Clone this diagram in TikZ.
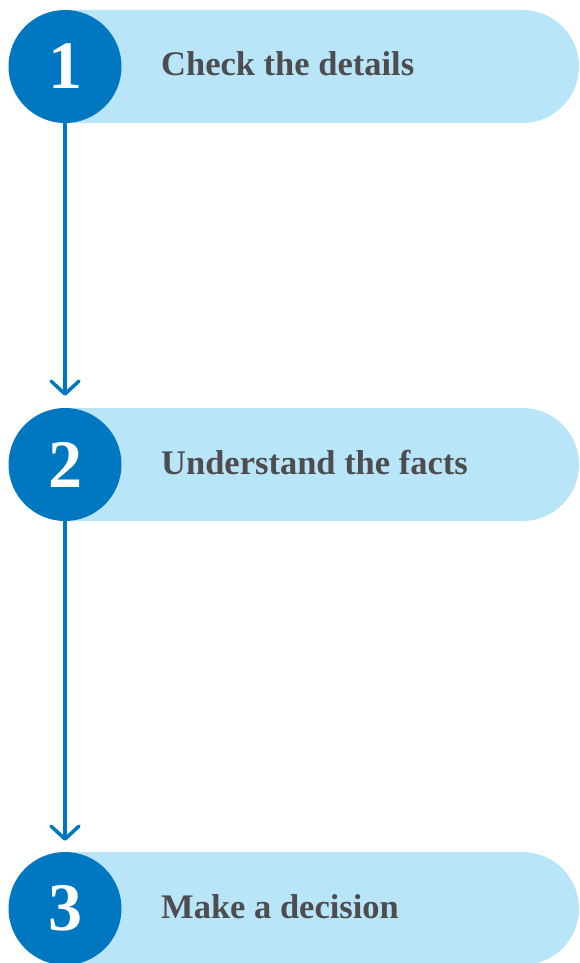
\documentclass[tikz,border=0pt]{standalone}
\usepackage{fontspec}
\setmainfont{Liberation Serif}
\usetikzlibrary{arrows.meta}
\definecolor{stepblue}{HTML}{0077C1}
\definecolor{pillblue}{HTML}{B9E5F9}
\definecolor{labelgray}{HTML}{4D4D4F}
\begin{document}
\begin{tikzpicture}[x=1pt,y=-1pt,
  numcircle/.style={circle,fill=stepblue,minimum size=113pt,inner sep=0pt,text=white,font=\fontsize{68}{68}\selectfont\bfseries},
  pilltext/.style={anchor=base west,inner sep=0pt,text=labelgray,font=\fontsize{34.5}{34.5}\selectfont\bfseries},
  flow/.style={draw=stepblue,line width=3.5pt,-{Straight Barb[length=13pt,width=28pt,line width=3.5pt,round]}}]
\useasboundingbox (0,0) rectangle (579,963);
% pills
\fill[pillblue] (65,10) -- (522.5,10) arc[start angle=-90,end angle=90,radius=56.5] -- (65,123) -- cycle;
\fill[pillblue] (65,408) -- (522.5,408) arc[start angle=-90,end angle=90,radius=56.5] -- (65,521) -- cycle;
\fill[pillblue] (65,852) -- (522.5,852) arc[start angle=-90,end angle=90,radius=56.5] -- (65,965) -- cycle;
% circles
\node[numcircle] (c1) at (65,66.5) {1};
\node[numcircle] (c2) at (65,464.5) {2};
\node[numcircle] (c3) at (65,908.5) {3};
% labels
\node[pilltext] (t1) at (161,76) {Check the details};
\node[pilltext] (t2) at (161,474) {Understand the facts};
\node[pilltext] (t3) at (161,918) {Make a decision};
% connectors
\draw[flow,shorten >=12pt] (c1.south) -- (c2.north);
\draw[flow,shorten >=11pt] (c2.south) -- (c3.north);
\end{tikzpicture}
\end{document}
